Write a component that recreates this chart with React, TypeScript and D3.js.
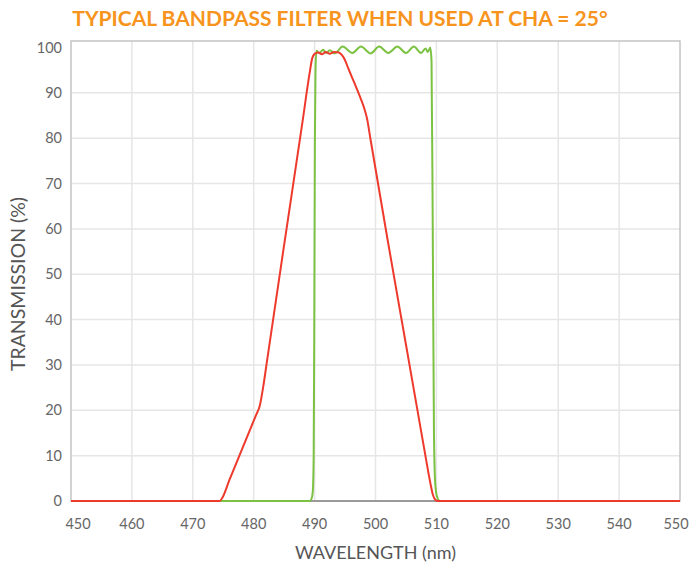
import React from "react";
import * as d3 from "d3";

const TITLE = "TYPICAL BANDPASS FILTER WHEN USED AT CHA = 25°";
const X_LABEL = "WAVELENGTH (nm)";
const Y_LABEL = "TRANSMISSION (%)";
const X_TICKS = [450, 460, 470, 480, 490, 500, 510, 520, 530, 540, 550];
const Y_TICKS = [0, 10, 20, 30, 40, 50, 60, 70, 80, 90, 100];

// Red curve (wavelength nm, transmission %)
const RED_WL = [450, 474.4, 474.8, 476, 480.4, 481, 481.6, 482.2, 485, 488, 489.2, 489.6, 490, 490.6, 491.2, 491.8, 492.5, 493.2, 494.0, 494.5, 495, 495.5, 496.5, 497.5, 498.2, 498.6, 499.2, 502, 505, 508, 509, 509.4, 509.8, 510.3, 550];
const RED_T = [0, 0, 0.6, 4.6, 19, 21, 25.5, 31, 56.5, 83.5, 94.5, 97.6, 98.6, 98.9, 98.5, 99.0, 98.6, 99.0, 98.9, 98.3, 97.2, 95.5, 92.3, 89, 86.4, 84.4, 79.6, 57.5, 34.5, 11.5, 4, 1.5, 0.3, 0, 0];

// Green curve
const GREEN_WL = [450, 489.2, 489.5, 489.7, 489.85, 489.95, 490.05, 490.15, 490.3, 490.8, 491.4, 491.9, 492.5, 493.3, 494.6, 496.2, 497.6, 499.2, 500.6, 502.1, 503.6, 505.0, 506.3, 507.5, 508.2, 508.6, 509.0, 509.2, 509.4, 509.6, 509.8, 510.1, 510.6, 550];
const GREEN_T = [0, 0, 0.5, 2, 10, 40, 80, 95, 99.3, 98.8, 99.5, 98.8, 99.4, 98.7, 100.2, 98.8, 100.2, 98.7, 100.2, 98.8, 100.2, 98.8, 100.2, 98.8, 99.8, 99.0, 100, 97, 60, 15, 4, 1, 0, 0];

const W = 691, H = 568;
const M = { left: 71, right: 680, top: 41, bottom: 501 };

export default function App() {
  const x = d3.scaleLinear().domain([450, 550]).range([M.left, M.right]);
  const y = d3.scaleLinear().domain([0, 100]).range([M.bottom, 47.5]);

  const line = d3
    .line<[number, number]>()
    .x((d) => x(d[0]))
    .y((d) => y(d[1]))
    .curve(d3.curveMonotoneX);

  const red = RED_WL.map((w, i) => [w, RED_T[i]] as [number, number]);
  const green = GREEN_WL.map((w, i) => [w, GREEN_T[i]] as [number, number]);

  const font = "Lato, 'Open Sans', sans-serif";

  return (
    <svg
      width={W}
      height={H}
      style={{ position: "absolute", left: 0, top: 0, background: "#fff" }}
      fontFamily={font}
    >
      <text x={340} y={26} textAnchor="middle" fill="#f7941d" fontSize={21} fontWeight={700}>
        {TITLE}
      </text>

      {/* grid */}
      {X_TICKS.filter((t) => t > 450 && t < 550).map((t) => (
        <line key={"gx" + t} x1={x(t)} x2={x(t)} y1={M.top} y2={M.bottom} stroke="#e6e6e6" strokeWidth={1.5} />
      ))}
      {Y_TICKS.filter((t) => t > 0 && t < 100).map((t) => (
        <line key={"gy" + t} x1={M.left} x2={M.right} y1={y(t)} y2={y(t)} stroke="#e6e6e6" strokeWidth={1.5} />
      ))}

      {/* frame */}
      <rect x={M.left} y={M.top} width={M.right - M.left} height={M.bottom - M.top} fill="none" stroke="#c4c4c4" strokeWidth={1.5} />
      <line x1={M.left} x2={M.right} y1={M.bottom} y2={M.bottom} stroke="#9a9a9a" strokeWidth={2} />

      {/* curves */}
      <path d={line(green) || ""} fill="none" stroke="#7cc242" strokeWidth={2} />
      <path d={line(red) || ""} fill="none" stroke="#ee3a2c" strokeWidth={2} />

      {/* tick labels */}
      {X_TICKS.map((t, i) => (
        <text
          key={"xl" + t}
          x={x(t) + (i === 0 ? 7 : i === X_TICKS.length - 1 ? -4 : 0)}
          y={529}
          textAnchor="middle"
          fill="#666"
          fontSize={14.5}
        >
          {t}
        </text>
      ))}
      {Y_TICKS.map((t) => (
        <text key={"yl" + t} x={62} y={y(t) + 5} textAnchor="end" fill="#666" fontSize={14.5}>
          {t}
        </text>
      ))}

      <text x={(M.left + M.right) / 2} y={559} textAnchor="middle" fill="#555" fontSize={18}>
        {X_LABEL}
      </text>
      <text
        transform={`translate(25, ${284}) rotate(-90)`}
        textAnchor="middle"
        fill="#555"
        fontSize={19.5}
      >
        {Y_LABEL}
      </text>
    </svg>
  );
}
